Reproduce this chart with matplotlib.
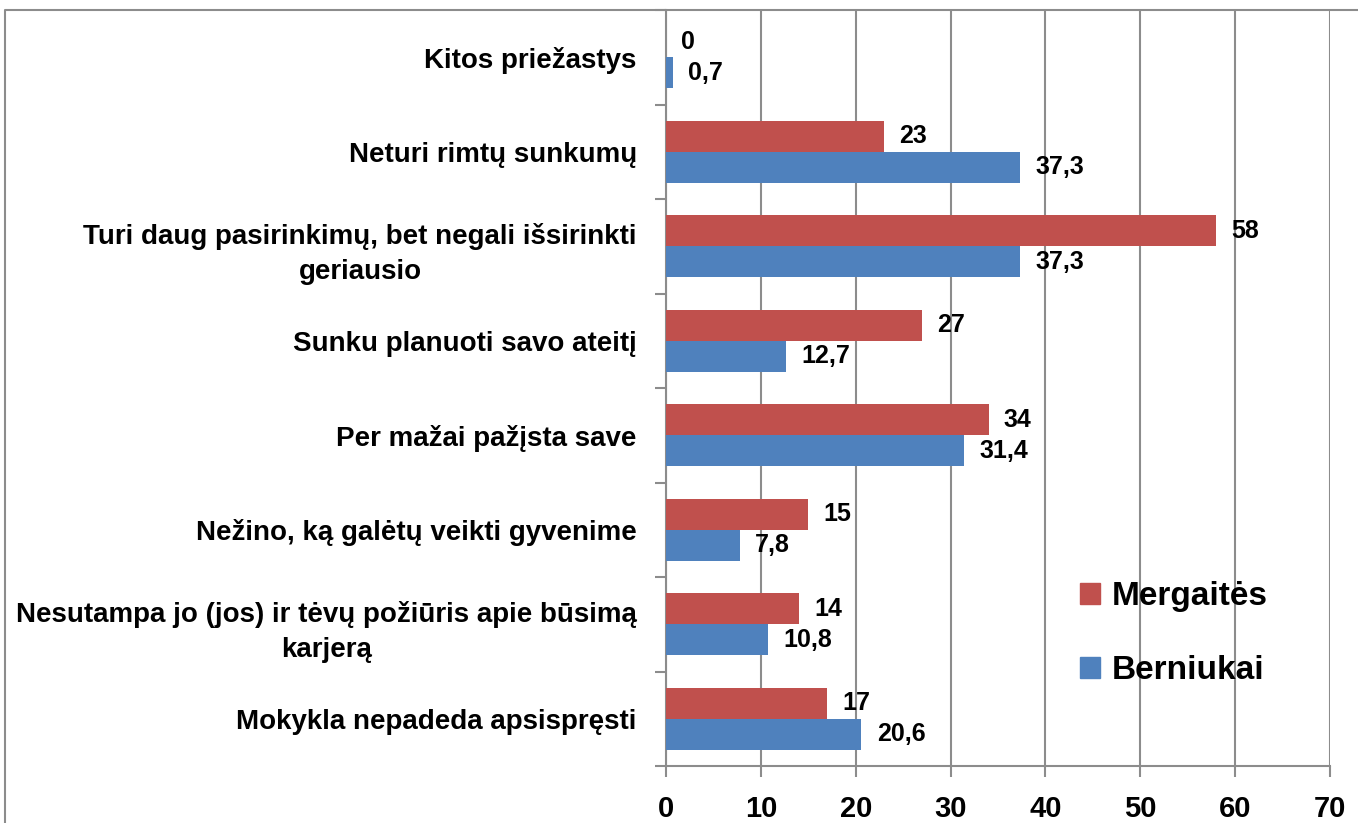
import numpy as np
import matplotlib.pyplot as plt
from matplotlib.lines import Line2D
from matplotlib.patches import Patch

# categories listed top to bottom
categories = [
    'Kitos priežastys',
    'Neturi rimtų sunkumų',
    'Turi daug pasirinkimų, bet negali išsirinkti\ngeriausio',
    'Sunku planuoti savo ateitį',
    'Per mažai pažįsta save',
    'Nežino, ką galėtų veikti gyvenime',
    'Nesutampa jo (jos) ir tėvų požiūris apie būsimą\nkarjerą',
    'Mokykla nepadeda apsispręsti',
]
mergaites = [0, 23, 58, 27, 34, 15, 14, 17]
berniukai = [0.7, 37.3, 37.3, 12.7, 31.4, 7.8, 10.8, 20.6]
series_names = ['Mergaitės', 'Berniukai']
xticks = [0, 10, 20, 30, 40, 50, 60, 70]

red = '#C0504D'
blue = '#4F81BD'
grid_col = '#8c8c8c'
font = 'Liberation Sans'

fig = plt.figure(figsize=(13.58, 8.23), dpi=100)
W, H = 1358, 823
ax = fig.add_axes([666 / W, 1 - 766 / H, (1330 - 666) / W, (766 - 10) / H])

n = len(categories)
y = np.arange(n)[::-1].astype(float)
h = 0.33
ax.barh(y + h / 2, mergaites, height=h, color=red, zorder=3)
ax.barh(y - h / 2, berniukai, height=h, color=blue, zorder=3)

def fmt(v):
    return ('%g' % v).replace('.', ',')

for yi, v in zip(y + h / 2, mergaites):
    ax.annotate(fmt(v), (v, yi), xytext=(11, 0), textcoords='offset points',
                va='center', ha='left', fontsize=18, fontweight='bold', family=font)
for yi, v in zip(y - h / 2, berniukai):
    ax.annotate(fmt(v), (v, yi), xytext=(11, 0), textcoords='offset points',
                va='center', ha='left', fontsize=18, fontweight='bold', family=font)

ax.set_xlim(0, 70)
ax.set_ylim(-0.5, n - 0.5)
ax.set_xticks(xticks)
ax.set_xticklabels([str(t) for t in xticks], fontsize=21, fontweight='bold', family=font)
ax.set_yticks(y)
ax.set_yticklabels(categories, fontsize=20, fontweight='bold', family=font,
                   multialignment='center', linespacing=1.45)
ax.set_yticks(np.arange(n + 1) - 0.5, minor=True)
ax.tick_params(axis='y', which='major', length=0, pad=21)
ax.tick_params(axis='y', which='minor', length=8, width=1.5, color=grid_col, direction='out')
ax.tick_params(axis='x', length=8, width=1.5, color=grid_col, direction='out', pad=13)

ax.grid(axis='x', color=grid_col, linewidth=1.5, zorder=0)
ax.set_axisbelow(True)
for s in ['top', 'right']:
    ax.spines[s].set_visible(False)
for s in ['left', 'bottom']:
    ax.spines[s].set_color(grid_col)
    ax.spines[s].set_linewidth(1.5)

# outer chart border
fig.add_artist(Line2D([5 / W, 5 / W, 1], [0, 1 - 10 / H, 1 - 10 / H],
                      transform=fig.transFigure, color=grid_col, linewidth=1.5))

handles = [Patch(color=red), Patch(color=blue)]
leg = fig.legend(handles, series_names, loc='upper left',
                 bbox_to_anchor=(1050 / W, 1 - 551 / H), frameon=False,
                 handlelength=0.6, handleheight=0.6, handletextpad=0.35,
                 labelspacing=1.3, prop={'size': 24, 'weight': 'bold', 'family': font})

fig.savefig('out.png', dpi=100)
